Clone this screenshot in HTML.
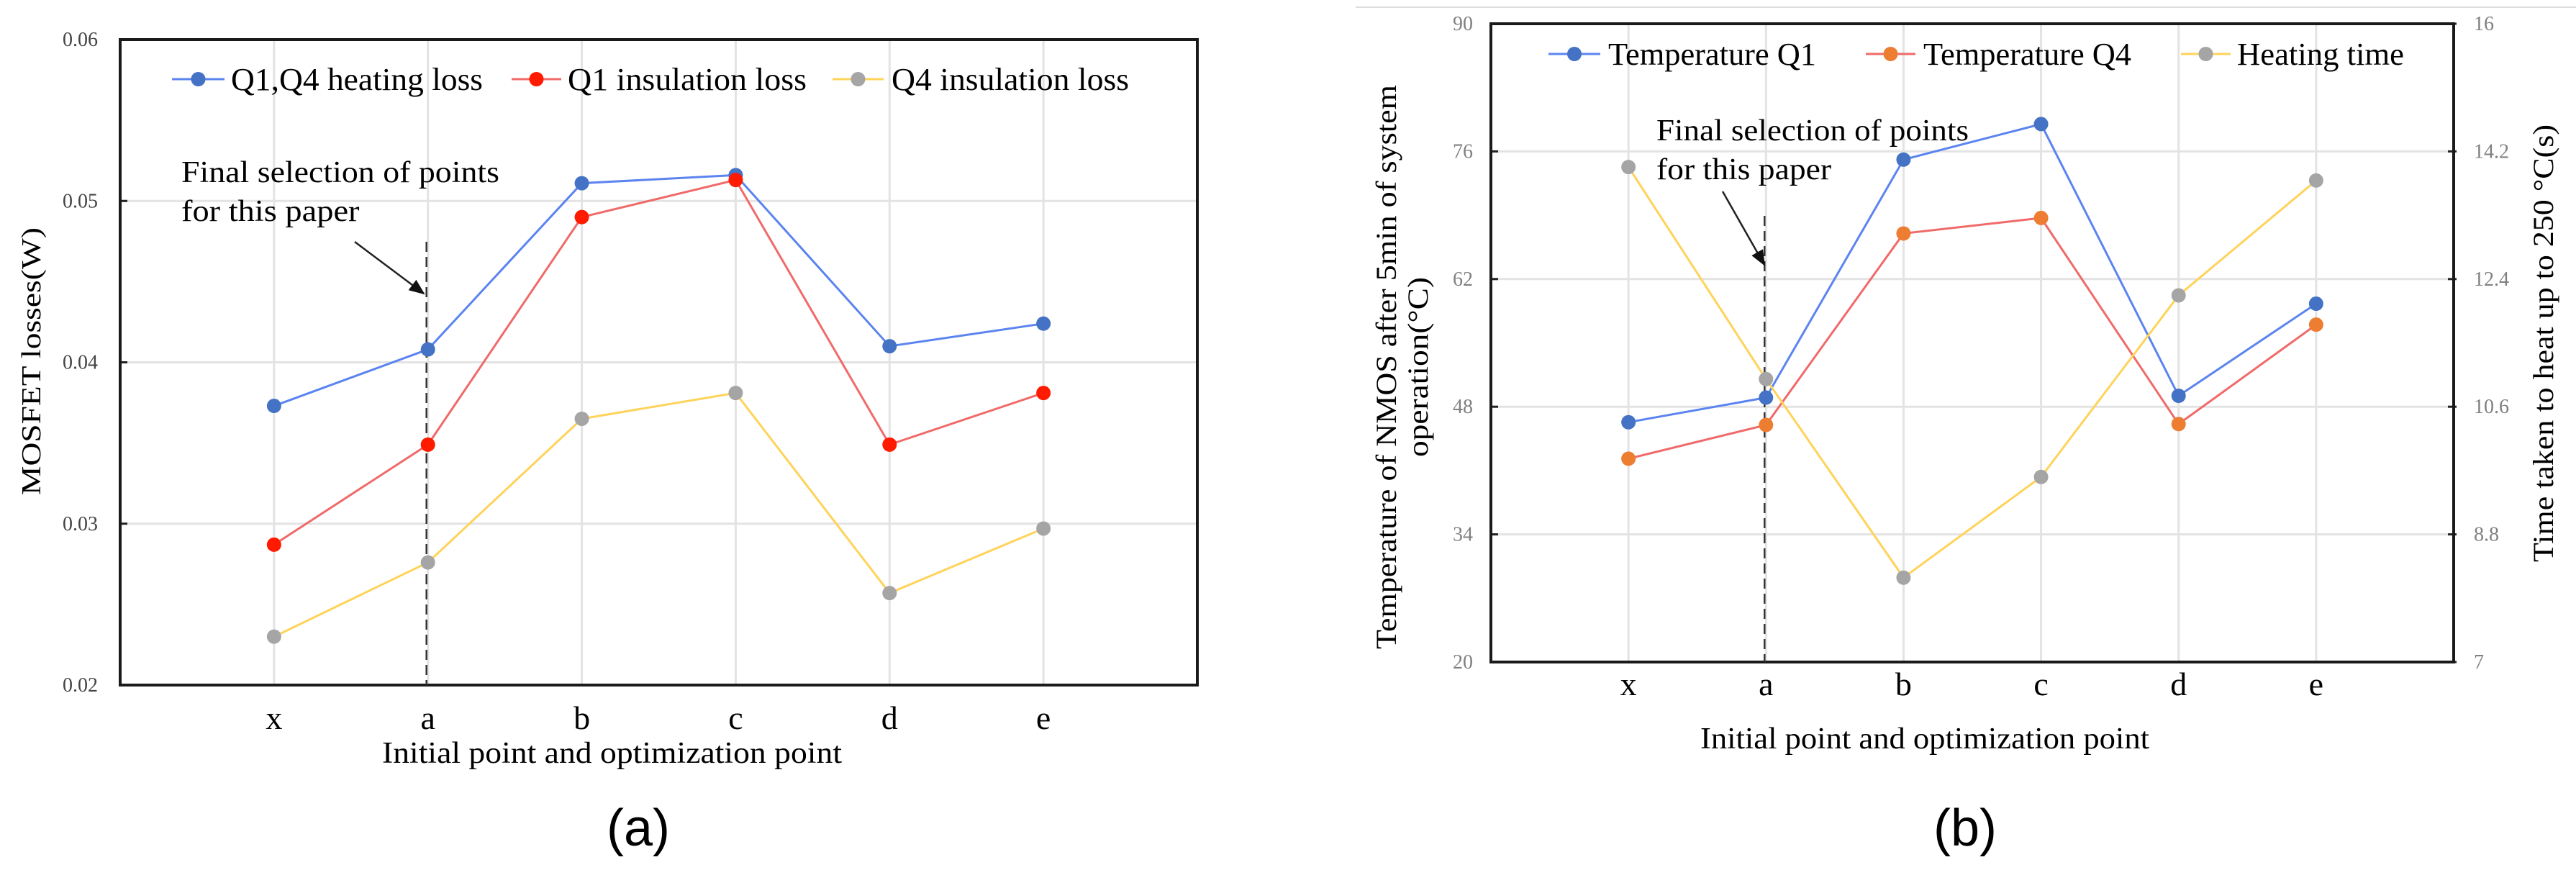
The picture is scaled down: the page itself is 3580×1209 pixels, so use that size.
<!DOCTYPE html>
<html><head><meta charset="utf-8">
<style>
html,body{margin:0;padding:0;background:#fff;width:3580px;height:1209px;overflow:hidden}
svg{display:block}
text{font-family:"Liberation Serif",serif}
</style></head>
<body>
<svg id="fig" width="3580" height="1209" viewBox="0 0 3580 1209" xmlns="http://www.w3.org/2000/svg">
<line x1="1884" y1="10" x2="3580" y2="10" stroke="#ddd" stroke-width="2"/>
<g id="chartA"></g>
<g id="chartB"></g>
</svg>
<script>
const categories = ["x","a","b","c","d","e"];
// Chart (a)
const aYTicks = [0.02,0.03,0.04,0.05,0.06];
const aYTickLabels = ["0.02","0.03","0.04","0.05","0.06"];
const aHeatingLoss = [0.0373,0.0408,0.0511,0.0516,0.0410,0.0424];
const aQ1Insulation = [0.0287,0.0349,0.0490,0.0513,0.0349,0.0381];
const aQ4Insulation = [0.0230,0.0276,0.0365,0.0381,0.0257,0.0297];
const aSeriesNames = ["Q1,Q4 heating loss","Q1 insulation loss","Q4 insulation loss"];
// Chart (b)
const bYTicks = [20,34,48,62,76,90];
const bYTickLabels = ["20","34","48","62","76","90"];
const bY2Ticks = [7,8.8,10.6,12.4,14.2,16];
const bY2TickLabels = ["7","8.8","10.6","12.4","14.2","16"];
const bTempQ1 = [46.3,49.0,75.1,79.0,49.2,59.3];
const bTempQ4 = [42.3,46.0,67.0,68.7,46.1,57.0];
const bHeatTime = [13.98,10.99,8.19,9.61,12.17,13.79];
const bSeriesNames = ["Temperature Q1","Temperature Q4","Heating time"];

const NS="http://www.w3.org/2000/svg";
function mk(parent,tag,attrs,txt){const e=document.createElementNS(NS,tag);for(const k in attrs)e.setAttribute(k,attrs[k]);if(txt!==undefined)e.textContent=txt;parent.appendChild(e);return e;}

function drawChart(g,o){
  const L=o.L,R=o.R,T=o.T,B=o.B;
  const step=(R-L)/7;
  const xs=i=>L+(i+1)*step;
  const y1=v=>B-(v-o.yMin)/(o.yMax-o.yMin)*(B-T);
  const y2=v=>B-(v-o.y2Min)/(o.y2Max-o.y2Min)*(B-T);
  o.yTicks.forEach((v,i)=>{
    const gl=mk(g,"line",{x1:L,x2:R,y1:y1(v),y2:y1(v),stroke:"#e3e3e3","stroke-width":3});
    
    
    const t=mk(g,"text",{x:o.tickX,y:y1(v)+9,"text-anchor":"end","font-size":28,fill:o.tickColor},o.yLabels[i]);
    
    
    const tk=mk(g,"line",{x1:L,x2:L+10,y1:y1(v),y2:y1(v),stroke:"#222","stroke-width":3});
    
    
  });
  if(o.y2Ticks){o.y2Ticks.forEach((v,i)=>{
    const t=mk(g,"text",{x:R+28,y:y2(v)+9,"text-anchor":"start","font-size":28,fill:o.tickColor},o.y2Labels[i]);
    
    
    const tk=mk(g,"line",{x1:R-8,x2:R+4,y1:y2(v),y2:y2(v),stroke:"#222","stroke-width":3});
    
    
  });}
  categories.forEach((c,i)=>{
    const gl=mk(g,"line",{x1:xs(i),x2:xs(i),y1:T,y2:B,stroke:"#e3e3e3","stroke-width":3});
    
    
    const t=mk(g,"text",{x:xs(i),y:o.xLabelY,"text-anchor":"middle","font-size":46},c);
    
    
  });
  const box=mk(g,"rect",{x:L,y:T,width:R-L,height:B-T,fill:"none",stroke:"#1a1a1a","stroke-width":4});
  
  
  const dx=xs(1)-2;
  const dl=mk(g,"line",{x1:dx,x2:dx,y1:o.dashTop,y2:B,stroke:"#333","stroke-width":2.5,"stroke-dasharray":"14,7"});
  
  
  const ar=mk(g,"line",{x1:o.arrow[0],y1:o.arrow[1],x2:o.arrow[2],y2:o.arrow[3],stroke:"#222","stroke-width":2.5,"marker-end":"url(#ah)"});
  
  
  const a1=mk(g,"text",{x:o.annX,y:o.annY,"font-size":42,textLength:o.annW,lengthAdjust:"spacingAndGlyphs"},"Final selection of points");
  
  
  const a2=mk(g,"text",{x:o.annX,y:o.annY+54,"font-size":42,textLength:o.annW*0.56,lengthAdjust:"spacingAndGlyphs"},"for this paper");
  
  
  o.series.forEach((s,si)=>{
    const yf=s.axis===2?y2:y1;
    const pts=s.values.map((v,i)=>xs(i)+","+yf(v)).join(" ");
    const pl=mk(g,"polyline",{points:pts,fill:"none",stroke:s.line,"stroke-width":3});
    
    
    s.values.forEach((v,i)=>{
      const c=mk(g,"circle",{cx:xs(i),cy:yf(v),r:10,fill:s.marker});
      
      
    });
    const lg=o.legend[si];
    const ll=mk(g,"line",{x1:lg[0],x2:lg[1],y1:o.legY,y2:o.legY,stroke:s.line,"stroke-width":3});
    
    
    const lm=mk(g,"circle",{cx:(lg[0]+lg[1])/2,cy:o.legY,r:10,fill:s.marker});
    
    
    const lt=mk(g,"text",{x:lg[2],y:o.legY+15,"font-size":44,textLength:lg[3]-lg[2],lengthAdjust:"spacingAndGlyphs"},s.name);
    
    
  });
  const xt=mk(g,"text",{x:(o.titleX[0]+o.titleX[1])/2,y:o.titleY,"text-anchor":"middle","font-size":42,textLength:o.titleX[1]-o.titleX[0],lengthAdjust:"spacingAndGlyphs"},"Initial point and optimization point");
  
  
  const pl=mk(g,"text",{x:o.panelX,y:1175,"text-anchor":"middle","font-size":72,style:"font-family:'Liberation Sans Narrow','Liberation Sans',sans-serif"},o.panel);
  
  
}

const svg=document.getElementById("fig");
const defs=mk(svg,"defs",{});
const m=mk(defs,"marker",{id:"ah",orient:"auto",markerUnits:"userSpaceOnUse"});
m.setAttribute("markerWidth","22");m.setAttribute("markerHeight","18");m.setAttribute("refX","20");m.setAttribute("refY","9");
mk(m,"path",{d:"M0,0 L22,9 L0,18 Z",fill:"#111"});

const gA=document.getElementById("chartA");
drawChart(gA,{L:167,R:1664,T:55,B:952,yMin:0.02,yMax:0.06,yTicks:aYTicks,yLabels:aYTickLabels,tickX:136,tickColor:"#444",
  xLabelY:1013,dashTop:336,arrow:[493,336,589,408],annX:252,annY:253,annW:442,
  legY:110,legend:[[239,312,321,671],[711,780,789,1121],[1157,1228,1239,1569]],
  titleX:[531,1170],titleY:1060,panel:"(a)",panelX:887,
  series:[{name:aSeriesNames[0],values:aHeatingLoss,line:"#5b84f0",marker:"#4472c4",axis:1},
          {name:aSeriesNames[1],values:aQ1Insulation,line:"#f06a6a",marker:"#ff1a00",axis:1},
          {name:aSeriesNames[2],values:aQ4Insulation,line:"#ffd35a",marker:"#a5a5a5",axis:1}]});
const ylA=mk(gA,"text",{x:0,y:0,transform:"translate(56,502) rotate(-90)","text-anchor":"middle","font-size":38,textLength:372,lengthAdjust:"spacingAndGlyphs"},"MOSFET losses(W)");



const gB=document.getElementById("chartB");
drawChart(gB,{L:2072,R:3410,T:33,B:920,yMin:20,yMax:90,yTicks:bYTicks,yLabels:bYTickLabels,y2Min:7,y2Max:16,y2Ticks:bY2Ticks,y2Labels:bY2TickLabels,tickX:2047,tickColor:"#808080",
  xLabelY:966,dashTop:300,arrow:[2394,266,2452,368],annX:2302,annY:195,annW:434,
  legY:75,legend:[[2152,2224,2235,2524],[2593,2662,2673,2962],[3031,3100,3109,3341]],
  titleX:[2363,2987],titleY:1040,panel:"(b)",panelX:2731,
  series:[{name:bSeriesNames[0],values:bTempQ1,line:"#5b84f0",marker:"#4472c4",axis:1},
          {name:bSeriesNames[1],values:bTempQ4,line:"#f06a6a",marker:"#ed7d31",axis:1},
          {name:bSeriesNames[2],values:bHeatTime,line:"#ffd35a",marker:"#a5a5a5",axis:2}]});
const ylB1=mk(gB,"text",{x:0,y:0,transform:"translate(1940,510) rotate(-90)","text-anchor":"middle","font-size":40,textLength:784,lengthAdjust:"spacingAndGlyphs"},"Temperature of NMOS after 5min of system");


const ylB2=mk(gB,"text",{x:0,y:0,transform:"translate(1984,510) rotate(-90)","text-anchor":"middle","font-size":40,textLength:250,lengthAdjust:"spacingAndGlyphs"},"operation(°C)");


const ylB3=mk(gB,"text",{x:0,y:0,transform:"translate(3548,477) rotate(-90)","text-anchor":"middle","font-size":40,textLength:608,lengthAdjust:"spacingAndGlyphs"},"Time taken to heat up to 250 °C(s)");


</script>
</body></html>
